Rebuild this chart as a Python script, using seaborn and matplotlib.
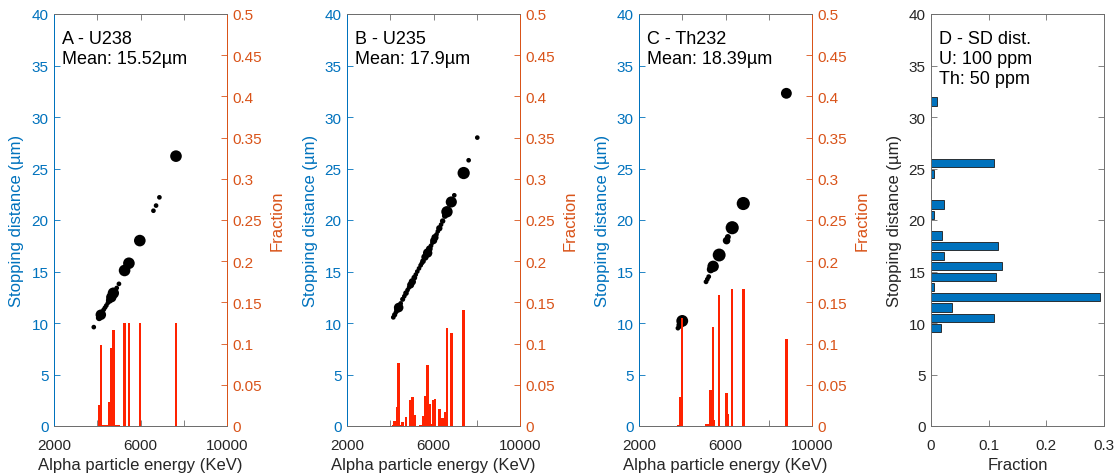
import numpy as np
import matplotlib
matplotlib.use("Agg")
import matplotlib.pyplot as plt
import seaborn as sns

# ---------------- data ----------------
# Panel A - U238
A_energy = [3840, 4090, 4165, 4230, 4300, 4360, 4420, 4490, 4560, 4650, 4745, 4820, 4900, 5003, 5264, 5464, 5968, 6598, 6720, 6874, 7641]
A_dist   = [9.6, 10.5, 10.8, 11.1, 11.3, 11.5, 11.7, 11.95, 12.2, 12.5, 12.9, 13.1, 13.4, 13.8, 15.1, 15.8, 18.0, 20.9, 21.4, 22.2, 26.2]
A_frac   = [0.0005, 0.025, 0.098, 0.0005, 0.001, 0.0005, 0.001, 0.0005, 0.029, 0.095, 0.117, 0.0005, 0.001, 0.001, 0.125, 0.125, 0.125, 0.0005, 0.0005, 0.0005, 0.125]

# Panel B - U235
B_energy = [4141, 4204, 4265, 4327, 4389, 4481, 4574, 4650, 4728, 4800, 4870, 4944, 5021, 5113, 5180, 5250, 5330,
            5406, 5460, 5514, 5606, 5670, 5730, 5807, 5884, 5950, 6007, 6069, 6140, 6200, 6269, 6350, 6423, 6531,
            6623, 6823, 6961, 7395, 7625, 8025]
B_dist   = [10.55, 10.8, 11.05, 11.3, 11.5, 11.9, 12.3, 12.6, 12.9, 13.2, 13.45, 13.7, 14.0, 14.4, 14.7, 15.0, 15.3,
            15.6, 15.8, 16.0, 16.4, 16.6, 16.8, 17.2, 17.5, 17.8, 18.0, 18.3, 18.6, 18.9, 19.2, 19.55, 19.9, 20.4,
            20.8, 21.75, 22.4, 24.56, 25.8, 28.0]
B_frac   = [0.001, 0.0064, 0.0005, 0.0227, 0.077, 0.0015, 0.0053, 0.0005, 0.011, 0.0005, 0.0005, 0.032, 0.035, 0.0133, 0.0005, 0.0005, 0.0005,
            0.0015, 0.0005, 0.0117, 0.036, 0.0005, 0.074, 0.027, 0.002, 0.0005, 0.032, 0.033, 0.0005, 0.0005, 0.021, 0.0005, 0.0093, 0.0166,
            0.119, 0.113, 0.0005, 0.141, 0.0005, 0.0005]

# Panel C - Th232
C_energy = [3800, 3900, 4000, 5100, 5160, 5224, 5316, 5428, 5449, 5707, 6050, 6110, 6310, 6822, 8815]
C_dist   = [9.5, 9.8, 10.2, 14.0, 14.25, 14.5, 15.2, 15.5, 15.6, 16.6, 18.0, 18.35, 19.25, 21.6, 32.3]
C_frac   = [0.001, 0.035, 0.131, 0.002, 0.001, 0.002, 0.044, 0.120, 0.007, 0.159, 0.040, 0.015, 0.166, 0.166, 0.106]

# Panel D - stopping distance distribution
D_center = [9.5, 10.5, 11.5, 12.5, 13.5, 14.5, 15.5, 16.5, 17.5, 18.5, 20.5, 21.5, 24.5, 25.5, 31.5]
D_frac   = [0.017, 0.110, 0.036, 0.2925, 0.005, 0.113, 0.123, 0.0225, 0.117, 0.0185, 0.005, 0.022, 0.005, 0.109, 0.011]

panel_text = ["A - U238\nMean: 15.52\u00b5m", "B - U235\nMean: 17.9\u00b5m", "C - Th232\nMean: 18.39\u00b5m"]
D_text = "D - SD dist.\nU: 100 ppm\nTh: 50 ppm"
frac_ticks = [0, 0.05, 0.1, 0.15, 0.2, 0.25, 0.3, 0.35, 0.4, 0.45, 0.5]
frac_labels = ["0", "0.05", "0.1", "0.15", "0.2", "0.25", "0.3", "0.35", "0.4", "0.45", "0.5"]

# ---------------- style ----------------
sns.set_theme(style="ticks")
plt.rcParams['font.family'] = ['Liberation Sans', 'DejaVu Sans']

BLUE = '#0072BD'
ORANGE = '#D95319'
GRAY = '#262626'
SPINE = '#6e6e6e'
RED = '#FF2200'

fig = plt.figure(figsize=(11.19, 4.77), dpi=100)
W, H = 1119, 477
bottom = 50 / H
height = 412 / H

panels = [(A_energy, A_dist, A_frac), (B_energy, B_dist, B_frac), (C_energy, C_dist, C_frac)]
lefts = [54, 347, 639]

for (E, d, f), left, txt in zip(panels, lefts, panel_text):
    ax = fig.add_axes([left / W, bottom, 173 / W, height])
    sns.scatterplot(x=E, y=d, size=f, sizes=(11, 90), size_norm=(0, 0.167),
                    color='black', edgecolor='none', linewidth=0, legend=False, ax=ax)
    ax2 = ax.twinx()
    ax2.bar(E, f, width=115, color=RED, linewidth=0)
    ax.set_xlim(2000, 10000)
    ax.set_ylim(0, 40)
    ax2.set_ylim(0, 0.5)
    ax.set_xticks([2000, 6000, 10000])
    ax.set_xticklabels(["2000", "6000", "10000"])
    ax.set_xticks([4000, 8000], minor=True)
    ax.set_yticks(range(0, 41, 5))
    ax2.set_yticks(frac_ticks)
    ax2.set_yticklabels(frac_labels)

    ax.set_xlabel("Alpha particle energy (KeV)", fontsize=12, color=GRAY, labelpad=4)
    ax.set_ylabel("Stopping distance (\u00b5m)", fontsize=12, color=BLUE, labelpad=5)
    ax2.set_ylabel("Fraction", fontsize=12, color=ORANGE, labelpad=5)

    ax.tick_params(axis='x', which='both', direction='in', top=True, bottom=True, length=4,
                   width=0.6, color=SPINE, labelcolor=GRAY, labelsize=11, pad=8.5)
    ax.tick_params(axis='y', direction='in', left=True, right=False, length=4, width=0.6,
                   color=BLUE, labelcolor=BLUE, labelsize=11, pad=4)
    ax2.tick_params(axis='y', direction='in', right=True, left=False, length=4, width=0.6,
                    color=ORANGE, labelcolor=ORANGE, labelsize=11, pad=4)
    for a in (ax, ax2):
        a.spines['top'].set_color(SPINE)
        a.spines['bottom'].set_color(SPINE)
        a.spines['left'].set_color(BLUE)
        a.spines['right'].set_color(ORANGE)
        for s in a.spines.values():
            s.set_linewidth(0.7)
            s.set_visible(True)
    ax2.text(0.046, 0.962, txt, transform=ax.transAxes, ha='left', va='top',
             fontsize=13, color='black', linespacing=1.25)

# Panel D
axd = fig.add_axes([931 / W, bottom, 173 / W, height])
sns.histplot(y=D_center, weights=D_frac, binwidth=1, binrange=(9, 32), shrink=0.8,
             color=BLUE, edgecolor='#1a1a1a', linewidth=0.6, alpha=1, ax=axd)
axd.set_xlim(0, 0.3)
axd.set_ylim(0, 40)
axd.set_xticks([0, 0.1, 0.2, 0.3])
axd.set_xticklabels(["0", "0.1", "0.2", "0.3"])
axd.set_yticks(range(0, 41, 5))
axd.set_xlabel("Fraction", fontsize=12, color=GRAY, labelpad=4)
axd.set_ylabel("Stopping distance (\u00b5m)", fontsize=12, color=GRAY, labelpad=5)
axd.tick_params(axis='x', direction='in', top=True, bottom=True, length=4, width=0.6,
                color=SPINE, labelcolor=GRAY, labelsize=11, pad=8.5)
axd.tick_params(axis='y', direction='in', left=True, right=True, length=4, width=0.6,
                color=SPINE, labelcolor=GRAY, labelsize=11, pad=4)
for s in axd.spines.values():
    s.set_visible(True)
    s.set_color(SPINE)
    s.set_linewidth(0.7)
axd.text(0.046, 0.962, D_text, transform=axd.transAxes, ha='left', va='top',
         fontsize=13, color='black', linespacing=1.25)

fig.savefig("out.png", dpi=100)
